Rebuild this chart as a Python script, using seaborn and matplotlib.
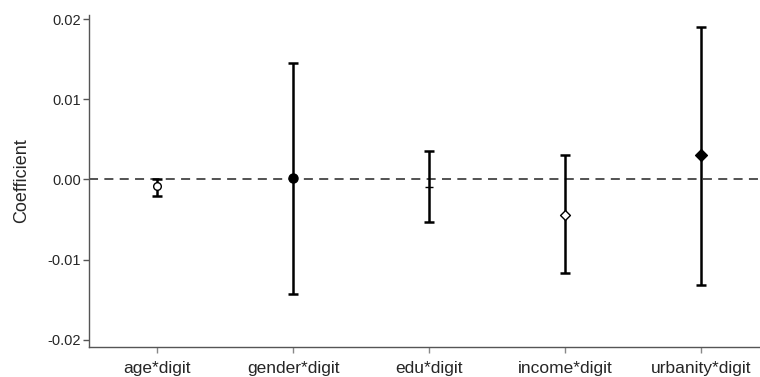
import matplotlib
matplotlib.use("Agg")
import matplotlib.pyplot as plt
import seaborn as sns
import pandas as pd
from matplotlib.ticker import FormatStrFormatter

terms = ["age*digit", "gender*digit", "edu*digit", "income*digit", "urbanity*digit"]
coef = [-0.0008, 0.0002, -0.0009, -0.0044, 0.0030]
ci_low = [-0.0021, -0.0143, -0.0053, -0.0117, -0.0132]
ci_high = [0.0001, 0.0145, 0.0035, 0.0031, 0.0190]
markers = ["o", "o", "_", "D", "D"]
filled = [False, True, True, False, True]
msizes = [5.5, 6.5, 6, 5, 6]

df = pd.DataFrame({"term": terms, "coef": coef, "lo": ci_low, "hi": ci_high})
df["x"] = range(len(df))

sns.set_theme(style="white")
plt.rcParams["font.family"] = ["Liberation Sans", "DejaVu Sans"]

fig = plt.figure(figsize=(7.6, 3.77), dpi=100)
ax = fig.add_axes([89 / 760, 30 / 377, 1 - 89 / 760, (347 - 15) / 377])

ax.axhline(0, color="#444444", lw=1.3, ls=(0, (5, 3.5)), zorder=1)

for i, row in df.iterrows():
    ax.errorbar(row["x"], row["coef"],
                yerr=[[row["coef"] - row["lo"]], [row["hi"] - row["coef"]]],
                fmt="none", ecolor="black", elinewidth=1.8, capsize=3.8, capthick=1.8,
                zorder=2)

for i, row in df.iterrows():
    sns.scatterplot(x=[row["x"]], y=[row["coef"]], ax=ax, marker=markers[i],
                    s=msizes[i] ** 2,
                    facecolor="black" if filled[i] else "white",
                    edgecolor="black", linewidth=1.0, zorder=3, legend=False)

ax.set_xlim(-0.50, 4.43)
ax.set_ylim(-0.0209, 0.0205)
ax.set_xticks(df["x"])
ax.set_xticklabels(terms, fontsize=12.5)
ax.set_yticks([-0.02, -0.01, 0.0, 0.01, 0.02])
ax.yaxis.set_major_formatter(FormatStrFormatter("%.2f"))
ax.tick_params(axis="y", labelsize=10.5, length=4, width=1, color="#555555",
               left=True, pad=2)
ax.tick_params(axis="x", length=4, width=1, color="#888888", bottom=True, pad=6)
ax.set_xlabel("")
ax.set_ylabel("Coefficient", fontsize=13, labelpad=12)

for side in ["top", "right"]:
    ax.spines[side].set_visible(False)
for side in ["left", "bottom"]:
    ax.spines[side].set_color("#555555")
    ax.spines[side].set_linewidth(1.0)

fig.savefig("out.png", dpi=100)
